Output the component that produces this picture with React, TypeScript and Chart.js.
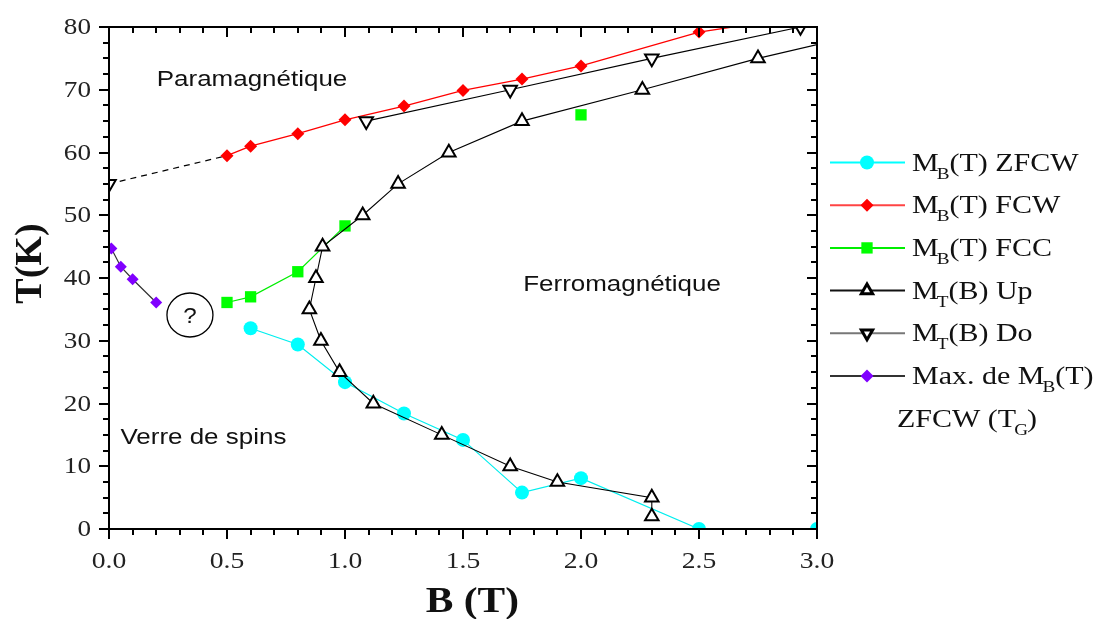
import React, { useEffect, useRef } from "react";
import { Chart, registerables } from "chart.js";

Chart.register(...registerables);

// ---- Data (B in tesla, T in kelvin) ----
const zfcwB = [0.6, 0.8, 1.0, 1.25, 1.5, 1.75, 2.0, 2.5, 3.0];
const zfcwT = [32.0, 29.4, 23.4, 18.4, 14.2, 5.8, 8.1, 0, 0];

const fcwB = [0.5, 0.6, 0.8, 1.0, 1.25, 1.5, 1.75, 2.0, 2.5, 3.0];
const fcwT = [59.5, 61.0, 63.0, 65.2, 67.4, 69.9, 71.7, 73.8, 79.2, 82.0];

const fccB = [0.5, 0.6, 0.8, 1.0, 1.5, 2.0];
const fccT: (number | null)[] = [36.1, 37.0, 41.0, 48.3, null, 66.0];

const upB = [2.3, 2.3, 1.9, 1.7, 1.41, 1.12, 0.977, 0.898, 0.849, 0.877, 0.905, 1.075, 1.225, 1.44, 1.75, 2.26, 2.75, 3.25];
const upT = [2, 5, 7.5, 10, 15, 20, 25, 30, 35, 40, 45, 50, 55, 60, 65, 70, 75, 79.4];

const doB = [0.0, 0.5, 1.09, 1.7, 2.3, 2.93];
const doT: (number | null)[] = [55, null, 65, 70, 75, 80];

const extrapB = [0.0, 0.5];
const extrapT = [55, 59.5];

const maxB = [0.01, 0.05, 0.1, 0.2];
const maxT = [44.7, 41.8, 39.8, 36.1];

const xTicks = [0, 0.5, 1.0, 1.5, 2.0, 2.5, 3.0];
const yTicks = [0, 10, 20, 30, 40, 50, 60, 70, 80];

const pts = (xs: number[], ys: (number | null)[]) => xs.map((x, i) => ({ x, y: ys[i] }));

const SERIF = '"Liberation Serif", "DejaVu Serif", serif';
const SANS = '"Liberation Sans", Arial, sans-serif';

function stretchText(ctx: CanvasRenderingContext2D, s: string, x: number, y: number, font: string, sx: number, align: "left" | "center" | "right" = "left", color = "#111") {
  ctx.save();
  ctx.font = font;
  ctx.fillStyle = color;
  ctx.textBaseline = "alphabetic";
  ctx.textAlign = "left";
  const w = ctx.measureText(s).width * sx;
  const x0 = align === "center" ? x - w / 2 : align === "right" ? x - w : x;
  ctx.translate(x0, y);
  ctx.scale(sx, 1);
  ctx.fillText(s, 0, 0);
  ctx.restore();
  return w;
}

type Seg = { t: string; sub?: boolean };
function richText(ctx: CanvasRenderingContext2D, segs: Seg[], x: number, y: number) {
  let cx = x;
  for (const s of segs) {
    if (s.sub) cx += stretchText(ctx, s.t, cx - 2, y + 8, `16px ${SERIF}`, 1.2) - 2;
    else cx += stretchText(ctx, s.t, cx, y, `25px ${SERIF}`, 1.2);
  }
}

const framePlugin = {
  id: "frameAndText",
  afterDraw(chart: any) {
    const ctx: CanvasRenderingContext2D = chart.ctx;
    const { left, right, top, bottom } = chart.chartArea;
    const xs = chart.scales.x;
    const ys = chart.scales.y;
    ctx.save();
    ctx.strokeStyle = "#000";
    ctx.lineWidth = 2;
    ctx.strokeRect(left, top, right - left, bottom - top);
    ctx.beginPath();
    for (let i = 0; i <= 30; i++) {
      const px = Math.round(xs.getPixelForValue(i / 10));
      const len = i % 5 === 0 ? 10 : 6;
      ctx.moveTo(px, bottom); ctx.lineTo(px, bottom + len);
      ctx.moveTo(px, top); ctx.lineTo(px, top + len);
    }
    for (let j = 0; j <= 32; j++) {
      const py = Math.round(ys.getPixelForValue(j * 2.5));
      const len = j % 4 === 0 ? 10 : 6;
      ctx.moveTo(left, py); ctx.lineTo(left - len, py);
      ctx.moveTo(right, py); ctx.lineTo(right - len, py);
    }
    ctx.stroke();
    ctx.restore();

    // tick labels
    for (const v of xTicks) {
      stretchText(ctx, v.toFixed(1), xs.getPixelForValue(v), bottom + 39, `24px ${SERIF}`, 1.15, "center", "#222");
    }
    for (const v of yTicks) {
      stretchText(ctx, String(v), left - 18, ys.getPixelForValue(v) + 7, `23px ${SERIF}`, 1.18, "right", "#222");
    }

    // axis titles
    stretchText(ctx, "B (T)", xs.getPixelForValue(1.54), 612, `bold 36px ${SERIF}`, 1.15, "center", "#111");
    ctx.save();
    ctx.translate(31, ys.getPixelForValue(42.3));
    ctx.rotate(-Math.PI / 2);
    ctx.font = `bold 38px ${SERIF}`;
    ctx.fillStyle = "#111";
    ctx.textAlign = "center";
    ctx.textBaseline = "middle";
    ctx.fillText("T(K)", 0, 0);
    ctx.restore();

    // region labels
    const lab = `22px ${SANS}`;
    stretchText(ctx, "Paramagnétique", xs.getPixelForValue(0.606), ys.getPixelForValue(70.6), lab, 1.18, "center", "#111");
    stretchText(ctx, "Ferromagnétique", xs.getPixelForValue(2.174), ys.getPixelForValue(37.9), lab, 1.18, "center", "#111");
    stretchText(ctx, "Verre de spins", xs.getPixelForValue(0.4), ys.getPixelForValue(13.5), lab, 1.18, "center", "#111");

    // "?" circle
    const cx = xs.getPixelForValue(0.343);
    const cy = ys.getPixelForValue(34.1);
    ctx.save();
    ctx.beginPath();
    ctx.ellipse(cx, cy, 23, 22, 0, 0, Math.PI * 2);
    ctx.lineWidth = 1.3;
    ctx.strokeStyle = "#000";
    ctx.stroke();
    ctx.restore();
    stretchText(ctx, "?", cx, cy + 8, lab, 1.1, "center", "#111");

    // legend
    const rows: { line: string; fill: string; stroke: string; style: string; r: number; rot: number; bw: number; segs: Seg[] }[] = [
      { line: "#00ffff", fill: "#00ffff", stroke: "#00ffff", style: "circle", r: 7, rot: 0, bw: 0, segs: [{ t: "M" }, { t: "B", sub: true }, { t: "(T) ZFCW" }] },
      { line: "#ff4444", fill: "#ff0000", stroke: "#ff0000", style: "rectRot", r: 6.5, rot: 0, bw: 0, segs: [{ t: "M" }, { t: "B", sub: true }, { t: "(T) FCW" }] },
      { line: "#00ee00", fill: "#00ff00", stroke: "#00ff00", style: "rect", r: 8, rot: 0, bw: 0, segs: [{ t: "M" }, { t: "B", sub: true }, { t: "(T) FCC" }] },
      { line: "#111111", fill: "#ffffff", stroke: "#000000", style: "triangle", r: 6.5, rot: 0, bw: 3, segs: [{ t: "M" }, { t: "T", sub: true }, { t: "(B) Up" }] },
      { line: "#777777", fill: "#ffffff", stroke: "#000000", style: "triangle", r: 6.5, rot: 180, bw: 3, segs: [{ t: "M" }, { t: "T", sub: true }, { t: "(B) Do" }] },
      { line: "#333333", fill: "#8000ff", stroke: "#8000ff", style: "rectRot", r: 6.5, rot: 0, bw: 0, segs: [{ t: "Max. de M" }, { t: "B", sub: true }, { t: "(T)" }] },
    ];
    const y0 = 162.5;
    const dy = 42.7;
    rows.forEach((r, i) => {
      const yy = y0 + i * dy;
      ctx.save();
      ctx.strokeStyle = r.line;
      ctx.lineWidth = 2;
      ctx.beginPath();
      ctx.moveTo(830, yy);
      ctx.lineTo(905, yy);
      ctx.stroke();
      ctx.fillStyle = r.fill;
      ctx.strokeStyle = r.stroke;
      ctx.lineWidth = r.bw;
      (Chart as any).helpers
        ? null
        : null;
      drawMarker(ctx, r.style, r.r, r.rot, 867, yy, r.bw > 0);
      ctx.restore();
      richText(ctx, r.segs, 912, yy + 8);
    });
    const y7 = y0 + 6 * dy + 8;
    const w1 = stretchText(ctx, "ZFCW (T", 897, y7, `25px ${SERIF}`, 1.2);
    const w2 = stretchText(ctx, "G", 897 + w1 - 2, y7 + 8, `16px ${SERIF}`, 1.2);
    stretchText(ctx, ")", 897 + w1 + w2 - 3, y7, `25px ${SERIF}`, 1.2);
  },
};

function drawMarker(ctx: CanvasRenderingContext2D, style: string, r: number, rotDeg: number, x: number, y: number, strokeOnly: boolean) {
  const rad = (rotDeg * Math.PI) / 180;
  ctx.beginPath();
  if (style === "circle") {
    ctx.arc(x, y, r, 0, Math.PI * 2);
  } else if (style === "rectRot") {
    ctx.moveTo(x - r, y); ctx.lineTo(x, y - r); ctx.lineTo(x + r, y); ctx.lineTo(x, y + r);
    ctx.closePath();
  } else if (style === "rect") {
    const s = Math.SQRT1_2 * r;
    ctx.rect(x - s, y - s, 2 * s, 2 * s);
  } else if (style === "triangle") {
    let a = rad;
    ctx.moveTo(x + Math.sin(a) * r, y - Math.cos(a) * r);
    a += (2 * Math.PI) / 3;
    ctx.lineTo(x + Math.sin(a) * r, y - Math.cos(a) * r);
    a += (2 * Math.PI) / 3;
    ctx.lineTo(x + Math.sin(a) * r, y - Math.cos(a) * r);
    ctx.closePath();
  }
  ctx.fill();
  if (strokeOnly) ctx.stroke();
}

export default function App() {
  const ref = useRef<HTMLCanvasElement | null>(null);
  useEffect(() => {
    if (!ref.current) return;
    const chart = new Chart(ref.current, {
      type: "scatter",
      data: {
        datasets: [
          {
            label: "M_T(B) Up",
            data: pts(upB, upT),
            showLine: true,
            borderColor: "#000",
            borderWidth: 1.1,
            pointStyle: "triangle",
            pointRadius: 7.8,
            pointBorderWidth: 2,
            pointBorderColor: "#000",
            pointBackgroundColor: "#fff",
            order: 0,
          },
          {
            label: "M_T(B) Do",
            data: pts(doB, doT),
            showLine: true,
            spanGaps: false,
            borderColor: "#000",
            borderWidth: 1.1,
            pointStyle: "triangle",
            pointRotation: 180,
            pointRadius: 7.8,
            pointBorderWidth: 2,
            pointBorderColor: "#000",
            pointBackgroundColor: "#fff",
            order: 1,
          },
          {
            label: "extrapolation",
            data: pts(extrapB, extrapT),
            showLine: true,
            borderColor: "#000",
            borderWidth: 1.2,
            borderDash: [6, 5],
            pointRadius: 0,
            order: 5,
          },
          {
            label: "M_B(T) ZFCW",
            data: pts(zfcwB, zfcwT),
            showLine: true,
            borderColor: "#00eeee",
            borderWidth: 1.2,
            pointStyle: "circle",
            pointRadius: 7,
            pointBorderWidth: 0,
            pointBackgroundColor: "#00ffff",
            order: 3,
          },
          {
            label: "M_B(T) FCW",
            data: pts(fcwB, fcwT),
            showLine: true,
            borderColor: "#ff0000",
            borderWidth: 1.3,
            pointStyle: "rectRot",
            pointRadius: 6.5,
            pointBorderWidth: 0,
            pointBackgroundColor: "#ff0000",
            order: 2,
          },
          {
            label: "M_B(T) FCC",
            data: pts(fccB, fccT),
            showLine: true,
            spanGaps: false,
            borderColor: "#00ee00",
            borderWidth: 1.2,
            pointStyle: "rect",
            pointRadius: 8,
            pointBorderWidth: 0,
            pointBackgroundColor: "#00ff00",
            order: 4,
          },
          {
            label: "Max. de M_B(T) ZFCW (T_G)",
            data: pts(maxB, maxT),
            showLine: true,
            borderColor: "#333",
            borderWidth: 1.2,
            pointStyle: "rectRot",
            pointRadius: 6,
            pointBorderWidth: 0,
            pointBackgroundColor: "#8000ff",
            order: 6,
          },
        ],
      },
      options: {
        responsive: false,
        animation: false,
        layout: { padding: { left: 109, right: 282, top: 27, bottom: 90 } },
        scales: {
          x: { type: "linear", min: 0, max: 3, display: false },
          y: { type: "linear", min: 0, max: 80, display: false },
        },
        plugins: { legend: { display: false }, tooltip: { enabled: false } },
      },
      plugins: [framePlugin],
    } as any);
    return () => chart.destroy();
  }, []);
  return (
    <div style={{ position: "fixed", left: 0, top: 0, width: 1099, height: 619, background: "#fff" }}>
      <canvas ref={ref} width={1099} height={619} style={{ width: 1099, height: 619 }} />
    </div>
  );
}
